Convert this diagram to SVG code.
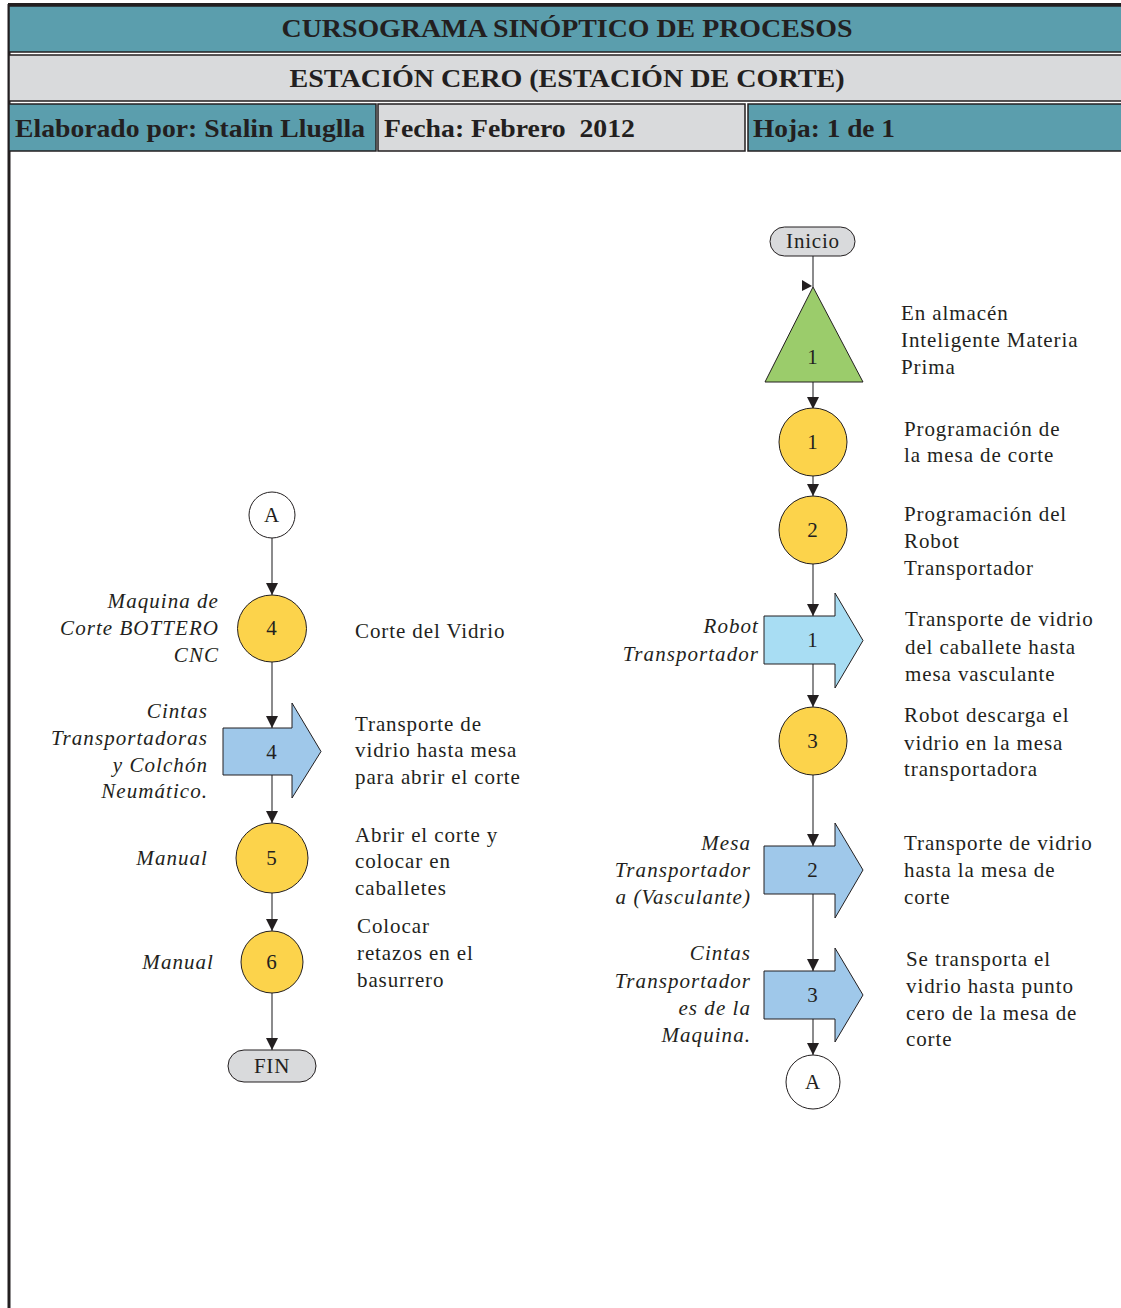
<svg xmlns="http://www.w3.org/2000/svg" width="1121" height="1308" viewBox="0 0 1121 1308">
  <style>
    .hdr { font-family: "Liberation Serif", "Times New Roman", serif; font-weight: bold; font-size: 26px; fill: #231F20; }
    .teal { fill: #5B9EAD; stroke: #231F20; stroke-width: 1.5; }
    .grey { fill: #D9DADC; stroke: #231F20; stroke-width: 1.5; }
    .txt { font-family: "Liberation Serif", "Times New Roman", serif; font-size: 21px; letter-spacing: 0.9px; fill: #231F20; }
    .lbl { font-family: "Liberation Serif", "Times New Roman", serif; font-size: 21px; letter-spacing: 1.05px; font-style: italic; fill: #231F20; text-anchor: end; }
    .num { font-family: "Liberation Serif", "Times New Roman", serif; font-size: 21px; letter-spacing: 0.8px; fill: #231F20; text-anchor: middle; }
    .op { fill: #FCD34B; stroke: #231F20; stroke-width: 1; }
    .tr { fill: #9FC8EA; stroke: #231F20; stroke-width: 1; }
    .tr1 { fill: #A8DDF3; stroke: #231F20; stroke-width: 1; }
    .st { fill: #9BCC6B; stroke: #231F20; stroke-width: 1; }
    .term { fill: #D9DADC; stroke: #231F20; stroke-width: 1; }
    .conn { fill: #FFFFFF; stroke: #231F20; stroke-width: 1; }
    .edge { stroke: #4D4D4F; stroke-width: 1.3; fill: none; marker-end: url(#arr); }
  </style>
  <defs>
    <marker id="arr" markerUnits="userSpaceOnUse" markerWidth="12" markerHeight="14" viewBox="0 0 12 14" refX="12" refY="7" orient="auto">
      <path d="M0,1 L12,7 L0,13 Z" fill="#231F20"/>
    </marker>
  </defs>

  <rect width="1121" height="1308" fill="#FFFFFF"/>

  <!-- page frame -->
  <line x1="8" y1="4.5" x2="1121" y2="4.5" stroke="#231F20" stroke-width="3"/>
  <line x1="9" y1="4" x2="9" y2="1308" stroke="#231F20" stroke-width="3"/>

  <!-- header block -->
  <g id="header">
    <rect class="teal" x="9" y="6" width="1114" height="46"/>
    <text class="hdr" x="567" y="37" text-anchor="middle" textLength="571" lengthAdjust="spacingAndGlyphs">CURSOGRAMA SINÓPTICO DE PROCESOS</text>
    <rect class="grey" x="9" y="55" width="1114" height="46"/>
    <text class="hdr" x="567" y="87" text-anchor="middle" textLength="555" lengthAdjust="spacingAndGlyphs">ESTACIÓN CERO (ESTACIÓN DE CORTE)</text>
    <rect class="teal" x="9" y="104" width="367" height="47"/>
    <text class="hdr" x="15" y="137" textLength="350" lengthAdjust="spacingAndGlyphs">Elaborado por: Stalin Lluglla</text>
    <rect class="grey" x="378" y="104" width="367" height="47"/>
    <text class="hdr" x="384" y="137" textLength="251" lengthAdjust="spacingAndGlyphs">Fecha: Febrero&#160; 2012</text>
    <rect class="teal" x="748" y="104" width="375" height="47"/>
    <text class="hdr" x="753" y="137" textLength="142" lengthAdjust="spacingAndGlyphs">Hoja: 1 de 1</text>
  </g>

  <!-- connectors -->
  <g id="connectors">
    <line x1="813" y1="256" x2="813" y2="287" stroke="#4D4D4F" stroke-width="1.3"/>
    <polygon points="802,280 812,286 802,291" fill="#231F20"/>
    <line class="edge" x1="813" y1="382" x2="813" y2="409"/>
    <line class="edge" x1="813" y1="476" x2="813" y2="496"/>
    <line class="edge" x1="813" y1="564" x2="813" y2="616"/>
    <line class="edge" x1="813" y1="664" x2="813" y2="707"/>
    <line class="edge" x1="813" y1="775" x2="813" y2="846"/>
    <line class="edge" x1="813" y1="894" x2="813" y2="971"/>
    <line class="edge" x1="813" y1="1019" x2="813" y2="1055"/>

    <line class="edge" x1="272" y1="538" x2="272" y2="595"/>
    <line class="edge" x1="272" y1="662" x2="272" y2="728"/>
    <line class="edge" x1="272" y1="775" x2="272" y2="823"/>
    <line class="edge" x1="272" y1="893" x2="272" y2="931"/>
    <line class="edge" x1="272" y1="993" x2="272" y2="1050"/>
  </g>

  <!-- right column -->
  <g id="inicio">
    <rect class="term" x="770" y="227" width="85" height="29" rx="14.5"/>
    <text class="num" x="813" y="248">Inicio</text>
  </g>

  <g id="almacen-1">
    <polygon class="st" points="813,287 863,382 765,382"/>
    <text class="num" x="813" y="364">1</text>
    <text class="txt" x="901" y="320">En almacén<tspan x="901" y="347">Inteligente Materia</tspan><tspan x="901" y="374">Prima</tspan></text>
  </g>

  <g id="op-1">
    <circle class="op" cx="813" cy="442" r="34"/>
    <text class="num" x="813" y="449">1</text>
    <text class="txt" x="904" y="436">Programación de<tspan x="904" y="462">la mesa de corte</tspan></text>
  </g>

  <g id="op-2">
    <circle class="op" cx="813" cy="530" r="34"/>
    <text class="num" x="813" y="537">2</text>
    <text class="txt" x="904" y="521">Programación del<tspan x="904" y="548">Robot</tspan><tspan x="904" y="575">Transportador</tspan></text>
  </g>

  <g id="tr-1">
    <path class="tr1" d="M764,616 H835 V593 L863,640.5 L835,688 V664 H764 Z"/>
    <text class="num" x="813" y="647">1</text>
    <text class="lbl" x="759" y="633">Robot<tspan x="759" y="661">Transportador</tspan></text>
    <text class="txt" x="905" y="626">Transporte de vidrio<tspan x="905" y="654">del caballete hasta</tspan><tspan x="905" y="681">mesa vasculante</tspan></text>
  </g>

  <g id="op-3">
    <circle class="op" cx="813" cy="741" r="34"/>
    <text class="num" x="813" y="748">3</text>
    <text class="txt" x="904" y="722">Robot descarga el<tspan x="904" y="750">vidrio en la mesa</tspan><tspan x="904" y="776">transportadora</tspan></text>
  </g>

  <g id="tr-2">
    <path class="tr" d="M764,846 H835 V823 L863,870 L835,918 V894 H764 Z"/>
    <text class="num" x="813" y="877">2</text>
    <text class="lbl" x="751" y="850">Mesa<tspan x="751" y="877">Transportador</tspan><tspan x="751" y="904">a (Vasculante)</tspan></text>
    <text class="txt" x="904" y="850">Transporte de vidrio<tspan x="904" y="877">hasta la mesa de</tspan><tspan x="904" y="904">corte</tspan></text>
  </g>

  <g id="tr-3">
    <path class="tr" d="M764,971 H835 V948 L863,995 L835,1042 V1019 H764 Z"/>
    <text class="num" x="813" y="1002">3</text>
    <text class="lbl" x="751" y="960">Cintas<tspan x="751" y="988">Transportador</tspan><tspan x="751" y="1015">es de la</tspan><tspan x="751" y="1042">Maquina.</tspan></text>
    <text class="txt" x="906" y="966">Se transporta el<tspan x="906" y="993">vidrio hasta punto</tspan><tspan x="906" y="1020">cero de la mesa de</tspan><tspan x="906" y="1046">corte</tspan></text>
  </g>

  <g id="conn-a-out">
    <circle class="conn" cx="813" cy="1082" r="27"/>
    <text class="num" x="813" y="1089">A</text>
  </g>

  <!-- left column -->
  <g id="conn-a-in">
    <circle class="conn" cx="272" cy="515" r="23"/>
    <text class="num" x="272" y="522">A</text>
  </g>

  <g id="op-4">
    <ellipse class="op" cx="272" cy="628.5" rx="34.5" ry="33.5"/>
    <text class="num" x="272" y="635">4</text>
    <text class="lbl" x="219" y="608">Maquina de<tspan x="219" y="635">Corte BOTTERO</tspan><tspan x="219" y="662">CNC</tspan></text>
    <text class="txt" x="355" y="638">Corte del Vidrio</text>
  </g>

  <g id="tr-4">
    <path class="tr" d="M223,728 H292 V703 L321,751.5 L292,798 V775 H223 Z"/>
    <text class="num" x="272" y="759">4</text>
    <text class="lbl" x="208" y="718">Cintas<tspan x="208" y="745">Transportadoras</tspan><tspan x="208" y="772">y Colchón</tspan><tspan x="208" y="798">Neumático.</tspan></text>
    <text class="txt" x="355" y="731">Transporte de<tspan x="355" y="757">vidrio hasta mesa</tspan><tspan x="355" y="784">para abrir el corte</tspan></text>
  </g>

  <g id="op-5">
    <ellipse class="op" cx="272" cy="858" rx="36" ry="35"/>
    <text class="num" x="272" y="865">5</text>
    <text class="lbl" x="208" y="865">Manual</text>
    <text class="txt" x="355" y="842">Abrir el corte y<tspan x="355" y="868">colocar en</tspan><tspan x="355" y="895">caballetes</tspan></text>
  </g>

  <g id="op-6">
    <circle class="op" cx="272" cy="962" r="31"/>
    <text class="num" x="272" y="969">6</text>
    <text class="lbl" x="214" y="969">Manual</text>
    <text class="txt" x="357" y="933">Colocar<tspan x="357" y="960">retazos en el</tspan><tspan x="357" y="987">basurrero</tspan></text>
  </g>

  <g id="fin">
    <rect class="term" x="228" y="1050" width="88" height="32" rx="16"/>
    <text class="num" x="272" y="1073">FIN</text>
  </g>
</svg>
